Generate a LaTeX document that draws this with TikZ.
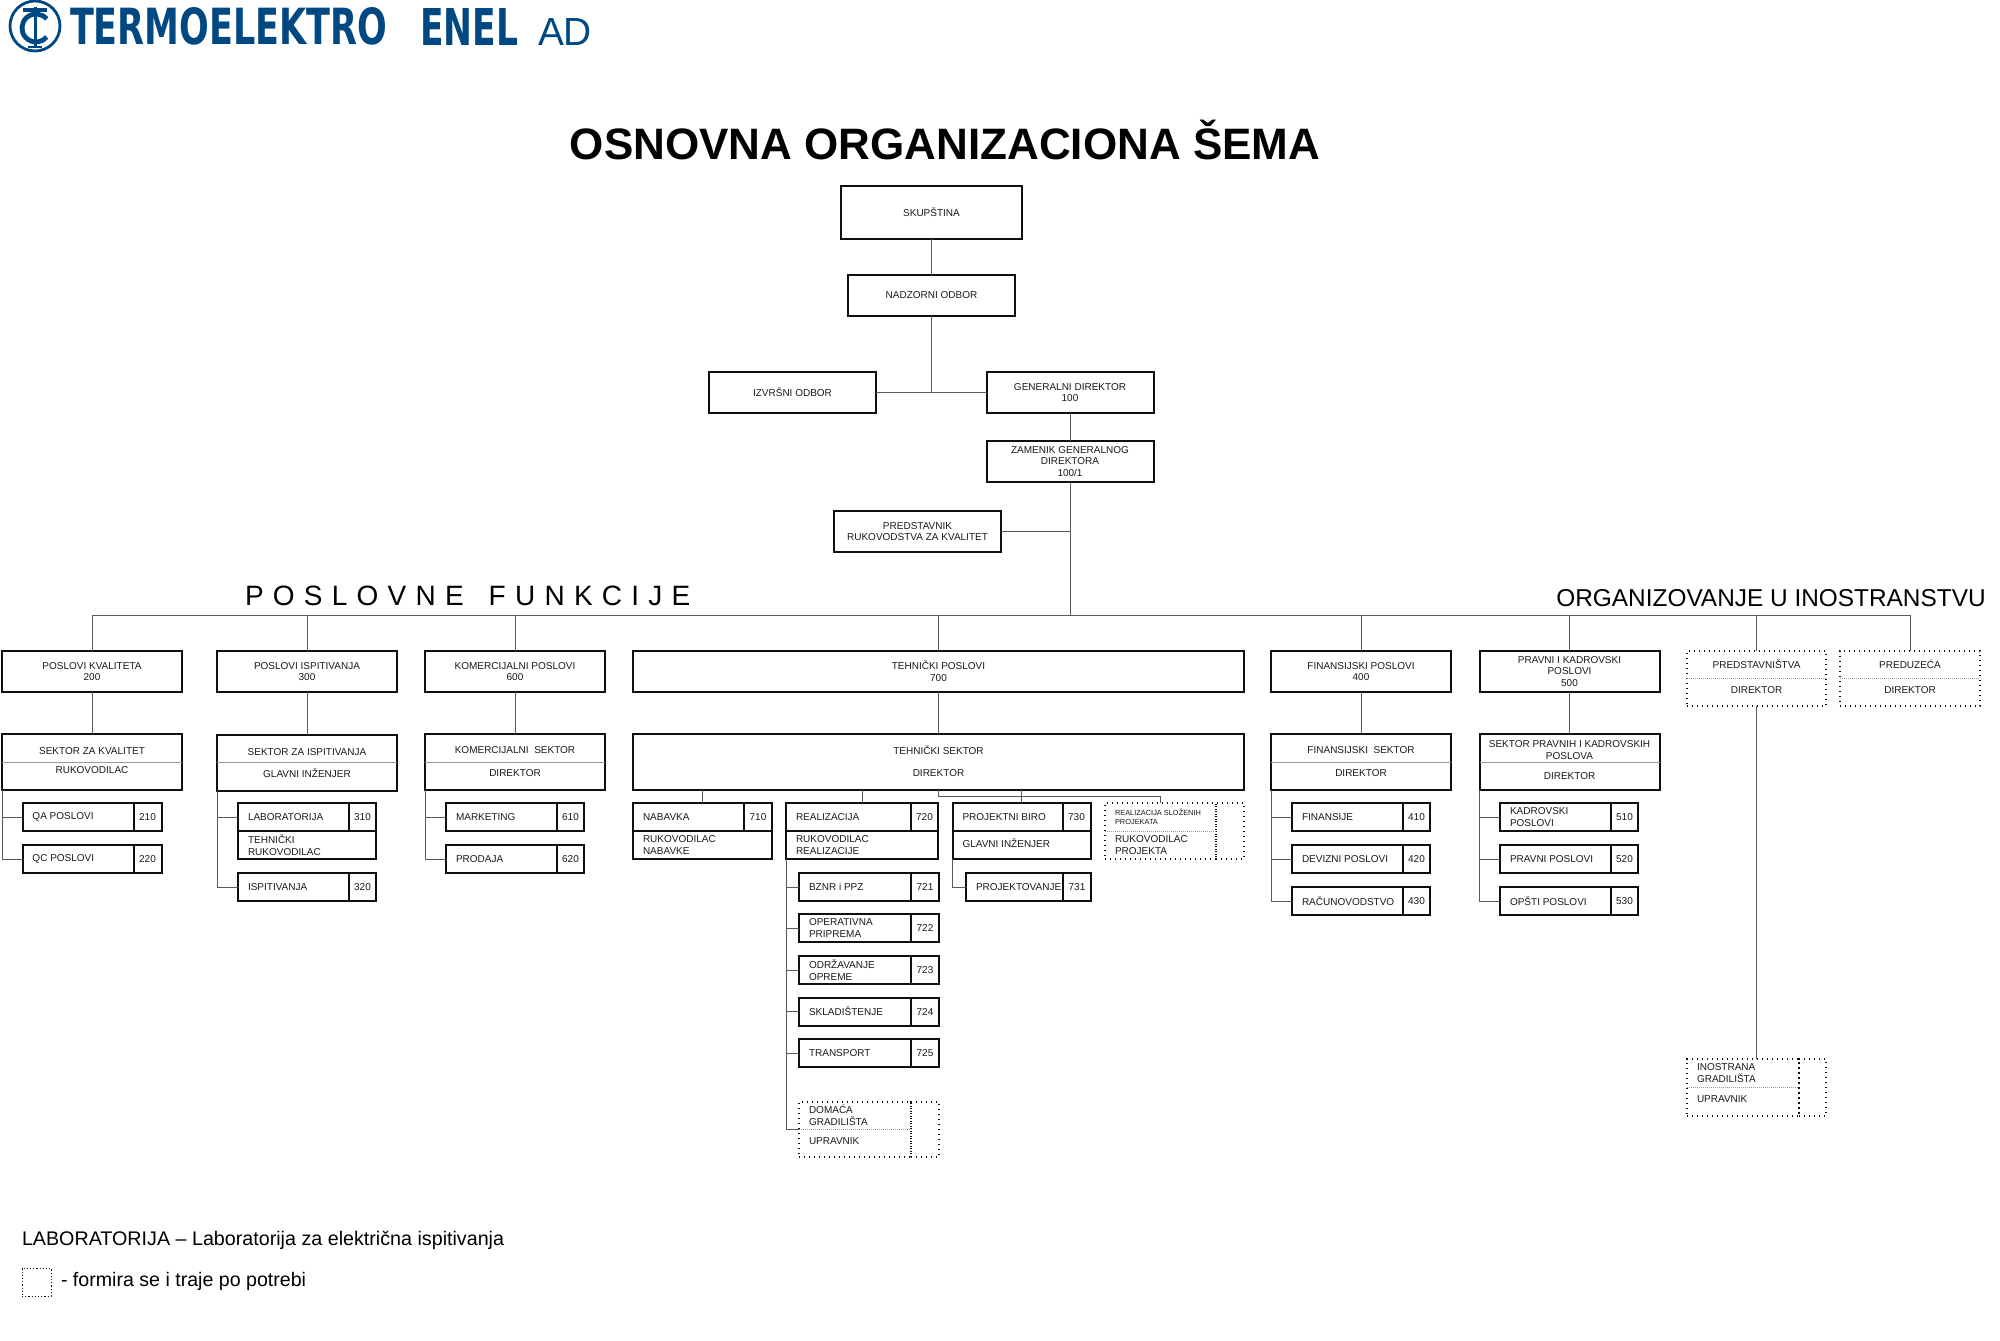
\documentclass[tikz,border=0pt]{standalone}
\usepackage{fontspec}
\setmainfont{Liberation Sans}
\newfontfamily\logofont{DejaVu Sans}
\usetikzlibrary{positioning,calc}
\definecolor{logoblue}{RGB}{0,72,130}
\definecolor{boxline}{RGB}{15,15,15}
\definecolor{linkgray}{RGB}{90,90,90}
\newcommand{\boxfont}{\fontsize{5}{5.85}\selectfont\hyphenpenalty=10000 }

\begin{document}
\begin{tikzpicture}[x=0.5pt, y=-0.5pt, every node/.style={font=\boxfont, text=black!90, outer sep=0pt}]
  \tikzset{
    funcbox/.style={draw=boxline, line width=1pt, minimum width=90pt, minimum height=20.5pt, inner sep=0pt, align=center},
    secbox/.style={draw=boxline, line width=1pt, minimum width=90pt, minimum height=28pt, inner sep=0pt},
    seclabel/.style={inner sep=0pt, align=center},
    namecell/.style={draw=boxline, line width=1pt, text width=#1, minimum height=14pt, inner xsep=5pt, inner ysep=0pt, align=flush left},
    numcell/.style={draw=boxline, line width=1pt, minimum width=#1, minimum height=14pt, inner sep=0pt, align=center},
    dotbox/.style={draw=boxline, line width=0.7pt, dash pattern=on 0.7pt off 1.8pt, inner sep=0pt},
    dotlabel/.style={inner sep=0pt, align=left, anchor=west},
    logotext/.style={text=logoblue, inner sep=0pt, anchor=south west},
    link/.style={draw=linkgray, line width=0.5pt},
    thinsplit/.style={draw=gray!80, line width=0.4pt},
    dotsplit/.style={draw=gray!80, line width=0.35pt, dash pattern=on 0.5pt off 0.5pt}
  }
  \useasboundingbox (0,0) rectangle (2000,1340);

  % logo
  \draw[logoblue, line width=1.4pt] (35,26) ellipse [x radius=12.5pt, y radius=12.5pt];
  \draw[logoblue, line width=2pt] (23,10) -- (47,10);
  \draw[logoblue, line width=1.5pt] (35,7) -- (35,47);
  \draw[logoblue, line width=1pt] (28,47) -- (42,47);
  \draw[logoblue, line width=2.4pt] (46.7,19) arc [start angle=40, end angle=320, radius=7pt];
  \node[logotext] (logoa) at (70,45) {\resizebox{158.5pt}{18.5pt}{\logofont\bfseries TERMOELEKTRO}};
  \node[logotext] (logob) at (420,45) {\resizebox{49pt}{18.5pt}{\logofont\bfseries ENEL}};
  \node[logotext] (logoc) at (538,45) {\resizebox{27pt}{13.5pt}{AD}};

  % headings
  \node[font=\fontsize{22}{26}\selectfont\bfseries, text=black] (title) at (945,140) {OSNOVNA ORGANIZACIONA ŠEMA};
  \node[font=\fontsize{14}{16}\selectfont\addfontfeature{LetterSpace=33}, text=black, anchor=west, inner sep=0pt] (hfunc) at (245,596) {POSLOVNE\hspace{4pt}\ FUNKCIJE};
  \node[font=\fontsize{12.2}{14}\selectfont, text=black] (hino) at (1771,598) {ORGANIZOVANJE U INOSTRANSTVU};

  % top of the chart
  \node[funcbox, minimum width=90.5pt, minimum height=26.5pt] (skup) at (931.5,212.5) {SKUPŠTINA};
  \node[funcbox, minimum width=83.5pt] (nadz) at (931.5,295.5) {NADZORNI ODBOR};
  \node[funcbox, minimum width=83.5pt] (izvr) at (792.5,392.5) {IZVRŠNI ODBOR};
  \node[funcbox, minimum width=83.5pt] (gend) at (1070,392.5) {GENERALNI DIREKTOR\\100};
  \node[funcbox, minimum width=83.5pt] (zame) at (1070,461.5) {ZAMENIK GENERALNOG\\DIREKTORA\\100/1};
  \node[funcbox, minimum width=83.5pt] (pred) at (917.5,531.5) {PREDSTAVNIK\\RUKOVODSTVA ZA KVALITET};

  \draw[link] (skup.south) -- (nadz.north);
  \draw[link] (nadz.south) -- (nadz.south |- gend.west);
  \draw[link] (izvr.east) -- (gend.west);
  \draw[link] (gend.south) -- (zame.north);
  \draw[link] (pred.east) -- (zame.south |- pred.east);

  % business functions
  \node[funcbox] (f200) at (92,671.5) {POSLOVI KVALITETA\\200};
  \node[funcbox] (f300) at (307,671.5) {POSLOVI ISPITIVANJA\\300};
  \node[funcbox] (f600) at (515,671.5) {KOMERCIJALNI POSLOVI\\600};
  \node[funcbox, minimum width=305.5pt] (f700) at (938.5,671.5) {TEHNIČKI POSLOVI\\700};
  \node[funcbox] (f400) at (1361,671.5) {FINANSIJSKI POSLOVI\\400};
  \node[funcbox] (f500) at (1569.5,671.5) {PRAVNI I KADROVSKI\\POSLOVI\\500};
  \node[dotbox, minimum width=69.5pt, minimum height=27.5pt] (fpre) at (1756.5,678.5) {};
  \node[dotbox, minimum width=70pt, minimum height=27.5pt] (fduz) at (1910,678.5) {};
  \draw[dotsplit] (fpre.west) -- (fpre.east);
  \draw[dotsplit] (fduz.west) -- (fduz.east);
  \node[seclabel] (fprea) at (1756.5,664) {PREDSTAVNIŠTVA};
  \node[seclabel] (fpreb) at (1756.5,690) {DIREKTOR};
  \node[seclabel] (fduza) at (1910,664) {PREDUZEĆA};
  \node[seclabel] (fduzb) at (1910,690) {DIREKTOR};

  \coordinate (bus) at (0,615);
  \draw[link] (f200.north) -- (f200.north |- bus) -- (fduz.north |- bus) -- (fduz.north);
  \draw[link] (zame.south) -- (zame.south |- bus);
  \draw[link] (f300.north) -- (f300.north |- bus);
  \draw[link] (f600.north) -- (f600.north |- bus);
  \draw[link] (f700.north) -- (f700.north |- bus);
  \draw[link] (f400.north) -- (f400.north |- bus);
  \draw[link] (f500.north) -- (f500.north |- bus);
  \draw[link] (fpre.north) -- (fpre.north |- bus);

  % sectors
  \node[secbox] (s200) at (92,762) {};
  \node[secbox] (s300) at (307,762.5) {};
  \node[secbox] (s600) at (515,762) {};
  \node[secbox, minimum width=305.5pt] (s700) at (938.5,762) {};
  \node[secbox] (s400) at (1361,762) {};
  \node[secbox] (s500) at (1569.5,762) {};
  \draw[thinsplit] (s200.west) -- (s200.east);
  \draw[thinsplit] (s300.west) -- (s300.east);
  \draw[thinsplit] (s600.west) -- (s600.east);
  \draw[thinsplit] (s400.west) -- (s400.east);
  \draw[thinsplit] (s500.west) -- (s500.east);
  \node[seclabel] (s200a) at (92,751) {SEKTOR ZA KVALITET};
  \node[seclabel] (s200b) at (92,770) {RUKOVODILAC};
  \node[seclabel] (s300a) at (307,752) {SEKTOR ZA ISPITIVANJA};
  \node[seclabel] (s300b) at (307,773) {GLAVNI INŽENJER};
  \node[seclabel] (s600a) at (515,750) {KOMERCIJALNI\ \ SEKTOR};
  \node[seclabel] (s600b) at (515,773) {DIREKTOR};
  \node[seclabel] (s700a) at (938.5,750) {TEHNIČKI SEKTOR};
  \node[seclabel] (s700b) at (938.5,773) {DIREKTOR};
  \node[seclabel] (s400a) at (1361,750) {FINANSIJSKI\ \ SEKTOR};
  \node[seclabel] (s400b) at (1361,773) {DIREKTOR};
  \node[seclabel] (s500a) at (1569.5,750) {SEKTOR PRAVNIH I KADROVSKIH\\POSLOVA};
  \node[seclabel] (s500b) at (1569.5,776) {DIREKTOR};

  \draw[link] (f200.south) -- (s200.north);
  \draw[link] (f300.south) -- (s300.north);
  \draw[link] (f600.south) -- (s600.north);
  \draw[link] (f700.south) -- (s700.north);
  \draw[link] (f400.south) -- (s400.north);
  \draw[link] (f500.south) -- (s500.north);

  % units 200
  \node[namecell=45.5pt, anchor=west] (u210) at (22.5,817) {QA POSLOVI};
  \node[numcell=14pt, right=0pt of u210] (n210) {210};
  \node[namecell=45.5pt, anchor=west] (u220) at (22.5,859) {QC POSLOVI};
  \node[numcell=14pt, right=0pt of u220] (n220) {220};
  \draw[link] (s200.south west) -- (s200.south west |- u220.west) -- (u220.west);
  \draw[link] (s200.south west |- u210.west) -- (u210.west);

  % units 300
  \node[namecell=45.5pt, anchor=west] (u310) at (238,817) {LABORATORIJA};
  \node[numcell=13.5pt, right=0pt of u310] (n310) {310};
  \node[namecell=59pt, anchor=north west] (l310) at (u310.south west) {TEHNIČKI\\RUKOVODILAC};
  \node[namecell=45.5pt, anchor=west] (u320) at (238,887) {ISPITIVANJA};
  \node[numcell=13.5pt, right=0pt of u320] (n320) {320};
  \draw[link] (s300.south west) -- (s300.south west |- u320.west) -- (u320.west);
  \draw[link] (s300.south west |- u310.west) -- (u310.west);

  % units 600
  \node[namecell=45.5pt, anchor=west] (u610) at (446,817) {MARKETING};
  \node[numcell=13.5pt, right=0pt of u610] (n610) {610};
  \node[namecell=45.5pt, anchor=west] (u620) at (446,859) {PRODAJA};
  \node[numcell=13.5pt, right=0pt of u620] (n620) {620};
  \draw[link] (s600.south west) -- (s600.south west |- u620.west) -- (u620.west);
  \draw[link] (s600.south west |- u610.west) -- (u610.west);

  % units 700
  \node[namecell=45.5pt, anchor=west] (u710) at (633,817) {NABAVKA};
  \node[numcell=14pt, right=0pt of u710] (n710) {710};
  \node[namecell=59.5pt, anchor=north west] (l710) at (u710.south west) {RUKOVODILAC\\NABAVKE};
  \node[namecell=52.5pt, anchor=west] (u720) at (786,817) {REALIZACIJA};
  \node[numcell=13.5pt, right=0pt of u720] (n720) {720};
  \node[namecell=66pt, anchor=north west] (l720) at (u720.south west) {RUKOVODILAC\\REALIZACIJE};
  \node[namecell=45pt, anchor=west] (u730) at (952.5,817) {\raisebox{-1pt}{PROJEKTNI BIRO}};
  \node[numcell=14pt, right=0pt of u730] (n730) {730};
  \node[namecell=59pt, anchor=north west] (l730) at (u730.south west) {\raisebox{1.5pt}{GLAVNI INŽENJER}};
  \node[namecell=38.5pt, anchor=west] (u731) at (966,887) {PROJEKTOVANJE};
  \node[numcell=14pt, right=0pt of u731] (n731) {731};

  \node[dotbox, minimum width=55.5pt, minimum height=28pt, anchor=north west] (rsp) at (1105,803) {};
  \node[dotbox, minimum width=14pt, minimum height=28pt, right=0pt of rsp] (rspn) {};
  \draw[dotsplit] (rsp.west) -- (rsp.east);
  \node[dotlabel, font=\fontsize{3.7}{4.5}\selectfont] (rspa) at (1115,817) {REALIZACIJA SLOŽENIH\\PROJEKATA};
  \node[dotlabel] (rspb) at (1115,845) {RUKOVODILAC\\PROJEKTA};

  \node[namecell=46pt, anchor=west] (u721) at (799,887) {BZNR i PPZ};
  \node[numcell=14pt, right=0pt of u721] (n721) {721};
  \node[namecell=46pt, anchor=west] (u722) at (799,928) {OPERATIVNA\\PRIPREMA};
  \node[numcell=14pt, right=0pt of u722] (n722) {722};
  \node[namecell=46pt, anchor=west] (u723) at (799,970) {ODRŽAVANJE\\OPREME};
  \node[numcell=14pt, right=0pt of u723] (n723) {723};
  \node[namecell=46pt, anchor=west] (u724) at (799,1011.5) {SKLADIŠTENJE};
  \node[numcell=14pt, right=0pt of u724] (n724) {724};
  \node[namecell=46pt, anchor=west] (u725) at (799,1053) {TRANSPORT};
  \node[numcell=14pt, right=0pt of u725] (n725) {725};
  \node[dotbox, minimum width=56pt, minimum height=27.5pt, anchor=north west] (dom) at (799,1102) {};
  \node[dotbox, minimum width=14pt, minimum height=27.5pt, right=0pt of dom] (domn) {};
  \draw[dotsplit] (dom.west) -- (dom.east);
  \node[dotlabel] (doma) at (809,1115) {DOMAĆA\\GRADILIŠTA};
  \node[dotlabel] (domb) at (809,1141) {UPRAVNIK};

  \draw[link] (l710.north |- s700.south) -- (l710.north |- u710.north);
  \draw[link] (l720.north |- s700.south) -- (l720.north |- u720.north);
  \draw[link] (l730.north |- s700.south) -- (l730.north |- u730.north);
  \coordinate (rsptop) at (0,796);
  \draw[link] (s700.south) -- (s700.south |- rsptop) -- (rsp.north |- rsptop) -- (rsp.north);
  \draw[link] (l730.south west) -- (l730.south west |- u731.west) -- (u731.west);
  \draw[link] (l720.south west) -- (l720.south west |- dom.west) -- (dom.west);
  \draw[link] (l720.south west |- u721.west) -- (u721.west);
  \draw[link] (l720.south west |- u722.west) -- (u722.west);
  \draw[link] (l720.south west |- u723.west) -- (u723.west);
  \draw[link] (l720.south west |- u724.west) -- (u724.west);
  \draw[link] (l720.south west |- u725.west) -- (u725.west);

  % units 400
  \node[namecell=45.5pt, anchor=west] (u410) at (1292,817) {FINANSIJE};
  \node[numcell=13.5pt, right=0pt of u410] (n410) {410};
  \node[namecell=45.5pt, anchor=west] (u420) at (1292,859) {DEVIZNI POSLOVI};
  \node[numcell=13.5pt, right=0pt of u420] (n420) {420};
  \node[namecell=45.5pt, anchor=west] (u430) at (1292,901) {RAČUNOVODSTVO};
  \node[numcell=13.5pt, right=0pt of u430] (n430) {430};
  \draw[link] (s400.south west) -- (s400.south west |- u430.west) -- (u430.west);
  \draw[link] (s400.south west |- u410.west) -- (u410.west);
  \draw[link] (s400.south west |- u420.west) -- (u420.west);

  % units 500
  \node[namecell=45.5pt, anchor=west] (u510) at (1500,817) {KADROVSKI\\POSLOVI};
  \node[numcell=13.5pt, right=0pt of u510] (n510) {510};
  \node[namecell=45.5pt, anchor=west] (u520) at (1500,859) {PRAVNI POSLOVI};
  \node[numcell=13.5pt, right=0pt of u520] (n520) {520};
  \node[namecell=45.5pt, anchor=west] (u530) at (1500,901) {OPŠTI POSLOVI};
  \node[numcell=13.5pt, right=0pt of u530] (n530) {530};
  \draw[link] (s500.south west) -- (s500.south west |- u530.west) -- (u530.west);
  \draw[link] (s500.south west |- u510.west) -- (u510.west);
  \draw[link] (s500.south west |- u520.west) -- (u520.west);

  % abroad
  \node[dotbox, minimum width=56pt, minimum height=28.5pt, anchor=north west] (ino) at (1687,1059) {};
  \node[dotbox, minimum width=13.5pt, minimum height=28.5pt, right=0pt of ino] (inon) {};
  \draw[dotsplit] (ino.west) -- (ino.east);
  \node[dotlabel] (inoa) at (1697,1073) {INOSTRANA\\GRADILIŠTA};
  \node[dotlabel] (inob) at (1697,1099) {UPRAVNIK};
  \draw[link] (fpre.south) -- (fpre.south |- ino.north);

  % legend
  \node[anchor=west, inner sep=0pt, font=\fontsize{9.85}{12}\selectfont, text=black] (lega) at (22,1240) {LABORATORIJA – Laboratorija za električna ispitivanja};
  \node[draw=boxline, line width=0.4pt, dash pattern=on 0.6pt off 1pt, minimum width=14.5pt, minimum height=14pt, anchor=west, inner sep=0pt] (legb) at (22,1282) {};
  \node[anchor=west, inner sep=0pt, font=\fontsize{9.8}{12}\selectfont, text=black] (legc) at (61,1281) {- formira se i traje po potrebi};
\end{tikzpicture}
\end{document}
